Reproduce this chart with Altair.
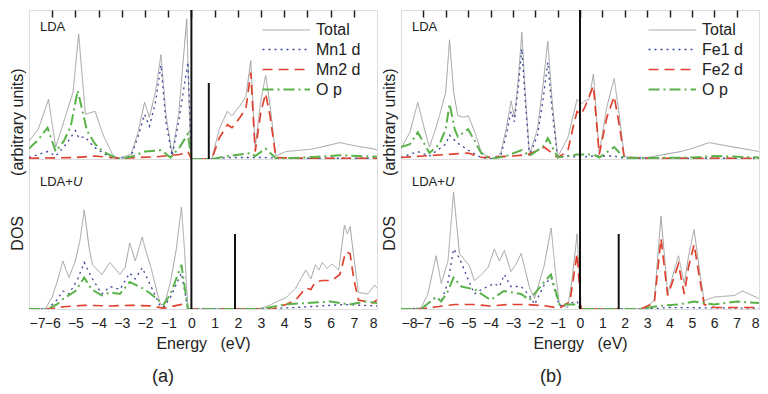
import altair as alt
import pandas as pd

FONT = "Liberation Sans"

# ---------------- series names / styles ----------------
a_names = ["Total", "Mn1 d", "Mn2 d", "O p"]
b_names = ["Total", "Fe1 d", "Fe2 d", "O p"]
line_colors = ["#a0a0a0", "#3b4796", "#e0402c", "#5ab24a"]
line_dashes = [[1, 0], [2, 4], [10, 6], [11, 4, 2, 4]]
line_widths = [1.0, 2.0, 2.8, 2.8]

# ---------------- panel (a), LDA ----------------
a_lda_total_E = [-7.0, -6.6, -6.16, -5.85, -5.5, -5.1, -4.86, -4.57, -4.15, -3.8, -3.4, -3.17, -2.6, -2.3, -2.02, -1.81, -1.55, -1.31, -1.1, -0.83, -0.55, -0.2, -0.05, 0.0, 0.88, 1.2, 1.55, 1.75, 2.1, 2.35, 2.56, 2.75, 3.0, 3.2, 3.4, 3.64, 4.07, 5.2, 6.4, 7.0, 7.9, 8.0]
a_lda_total_v = [1.2, 2.0, 4.0, 0.8, 2.5, 4.5, 8.4, 3.0, 3.2, 1.6, 0.3, 0.05, 0.3, 1.8, 3.8, 2.8, 4.5, 7.0, 3.0, 0.3, 3.0, 9.4, 1.0, 0.0, 0.0, 2.0, 3.2, 2.9, 3.6, 4.2, 6.6, 0.8, 4.0, 5.6, 3.5, 0.2, 0.5, 0.66, 1.1, 0.9, 0.66, 0.6]
a_lda_m1_E = [-7.0, -6.2, -5.85, -5.4, -5.0, -4.85, -4.6, -4.2, -3.5, -3.17, -2.6, -2.3, -2.02, -1.81, -1.55, -1.31, -1.1, -0.83, -0.55, -0.15, 0.0, 0.9, 1.6, 3.0, 4.0, 8.0]
a_lda_m1_v = [0.1, 0.5, 0.2, 1.0, 1.9, 1.4, 1.5, 0.8, 0.1, 0.0, 0.2, 1.5, 3.0, 2.2, 3.8, 6.3, 2.5, 0.2, 2.5, 6.5, 0.0, 0.0, 0.1, 0.1, 0.05, 0.05]
a_lda_m2_E = [-7.0, -5.0, -4.2, -3.0, -1.5, -0.5, -0.15, 0.0, 0.88, 1.2, 1.55, 1.75, 2.1, 2.35, 2.56, 2.75, 3.0, 3.2, 3.4, 3.64, 4.5, 8.0]
a_lda_m2_v = [0.05, 0.1, 0.2, 0.05, 0.15, 0.3, 0.5, 0.0, 0.0, 1.4, 2.3, 2.1, 2.8, 3.4, 5.8, 0.5, 3.2, 4.4, 2.8, 0.1, 0.05, 0.05]
a_lda_op_E = [-7.0, -6.6, -6.2, -5.85, -5.5, -5.2, -4.9, -4.5, -4.15, -3.8, -3.17, -2.6, -2.0, -1.3, -0.9, -0.5, -0.15, 0.0, 0.9, 1.6, 2.56, 2.75, 3.2, 3.64, 5.0, 6.4, 8.0]
a_lda_op_v = [0.7, 1.3, 2.1, 0.5, 1.2, 2.2, 4.6, 1.9, 1.0, 0.5, 0.0, 0.15, 0.5, 0.6, 0.1, 0.8, 1.7, 0.0, 0.0, 0.2, 0.4, 0.2, 0.7, 0.05, 0.1, 0.25, 0.15]

# ---------------- panel (a), LDA+U ----------------
a_ldau_total_E = [-7.0, -6.3, -6.0, -5.75, -5.54, -5.28, -5.0, -4.8, -4.62, -4.4, -4.26, -3.86, -3.51, -3.08, -2.85, -2.66, -2.42, -2.12, -1.95, -1.74, -1.38, -1.2, -0.9, -0.65, -0.43, -0.3, -0.15, 0.0, 2.9, 3.3, 3.7, 4.07, 4.5, 4.93, 5.15, 5.34, 5.5, 5.64, 5.85, 6.06, 6.35, 6.6, 6.72, 6.84, 7.0, 7.2, 7.6, 7.9, 8.0]
a_ldau_total_v = [0.0, 0.0, 0.8, 2.0, 3.2, 2.1, 3.2, 4.6, 6.6, 4.0, 2.95, 2.3, 3.1, 2.3, 2.8, 4.4, 3.2, 4.8, 3.8, 2.75, 0.5, 0.1, 1.8, 4.0, 6.8, 4.0, 0.0, 0.0, 0.0, 0.2, 0.5, 0.75, 1.4, 2.6, 2.0, 2.95, 2.6, 3.1, 2.7, 3.0, 2.6, 5.6, 5.0, 5.5, 3.5, 1.1, 1.0, 1.6, 1.4]
a_ldau_m1_E = [-7.0, -6.2, -5.8, -5.54, -5.28, -4.9, -4.62, -4.4, -4.26, -3.86, -3.51, -3.08, -2.66, -2.42, -2.12, -1.74, -1.38, -1.2, -0.9, -0.43, -0.15, 0.0, 3.0, 4.5, 6.6, 8.0]
a_ldau_m1_v = [0.0, 0.0, 0.6, 1.2, 1.0, 2.0, 3.1, 2.4, 2.0, 1.0, 1.5, 1.3, 2.4, 2.0, 2.75, 1.5, 0.3, 0.1, 0.8, 2.4, 0.0, 0.0, 0.0, 0.1, 0.3, 0.2]
a_ldau_m2_E = [-7.0, -6.2, -5.5, -4.6, -3.5, -2.6, -1.7, -1.2, -0.43, -0.15, 0.0, 3.5, 4.07, 4.5, 4.93, 5.15, 5.34, 5.64, 6.06, 6.4, 6.65, 6.84, 7.0, 7.2, 7.8, 8.0]
a_ldau_m2_v = [0.0, 0.0, 0.15, 0.25, 0.2, 0.25, 0.2, 0.05, 0.3, 0.0, 0.0, 0.0, 0.3, 0.6, 1.4, 1.3, 1.8, 1.9, 1.9, 2.3, 3.8, 3.7, 2.0, 0.6, 0.4, 0.6]
a_ldau_op_E = [-7.0, -6.2, -5.8, -5.5, -5.0, -4.62, -4.3, -3.86, -3.51, -3.08, -2.66, -2.12, -1.74, -1.2, -0.9, -0.43, -0.15, 0.0, 3.0, 4.0, 5.0, 6.0, 6.8, 7.5, 8.0]
a_ldau_op_v = [0.0, 0.0, 0.3, 0.7, 1.2, 2.1, 1.3, 0.9, 1.1, 1.0, 1.8, 1.4, 1.0, 0.3, 1.0, 2.95, 0.0, 0.0, 0.0, 0.3, 0.4, 0.5, 0.3, 0.5, 0.4]

# ---------------- panel (b), LDA ----------------
b_lda_total_E = [-8.0, -7.6, -7.25, -6.95, -6.73, -6.5, -6.28, -6.0, -5.83, -5.65, -5.46, -5.2, -4.99, -4.7, -4.42, -4.0, -3.7, -3.53, -3.3, -3.08, -2.93, -2.75, -2.6, -2.45, -2.26, -1.9, -1.65, -1.44, -1.25, -1.0, -0.55, -0.13, 0.05, 0.22, 0.4, 0.6, 0.86, 1.2, 1.53, 1.75, 1.98, 3.0, 4.5, 5.0, 5.77, 6.5, 7.63, 8.0]
b_lda_total_v = [0.7, 1.8, 3.8, 2.0, 0.8, 1.8, 2.9, 4.5, 8.0, 4.5, 2.9, 2.8, 2.9, 1.8, 0.5, 0.0, 0.1, 0.5, 2.0, 3.9, 2.8, 5.5, 8.5, 4.5, 0.3, 2.0, 5.0, 7.9, 4.0, 0.15, 1.4, 4.0, 3.7, 3.9, 4.0, 5.7, 0.4, 3.5, 5.4, 3.0, 0.15, 0.1, 0.5, 0.7, 1.1, 0.9, 0.6, 0.5]
b_lda_f1_E = [-8.0, -7.25, -6.73, -6.0, -5.83, -5.5, -5.0, -4.42, -4.0, -3.53, -3.3, -3.08, -2.93, -2.75, -2.6, -2.45, -2.26, -1.9, -1.65, -1.44, -1.25, -1.0, -0.5, 0.0, 0.6, 1.5, 2.0, 8.0]
b_lda_f1_v = [0.1, 0.5, 0.2, 1.0, 1.6, 1.1, 0.6, 0.1, 0.0, 0.3, 1.6, 3.2, 2.5, 5.0, 7.4, 4.0, 0.2, 1.6, 4.0, 6.5, 3.3, 0.1, 0.2, 0.1, 0.2, 0.2, 0.05, 0.05]
b_lda_f2_E = [-8.0, -7.0, -6.0, -5.0, -4.4, -3.0, -2.3, -1.6, -1.0, -0.55, -0.3, -0.13, 0.05, 0.22, 0.6, 0.86, 1.2, 1.53, 1.75, 1.98, 3.0, 8.0]
b_lda_f2_v = [0.1, 0.2, 0.3, 0.4, 0.1, 0.2, 0.3, 0.8, 0.1, 0.5, 2.2, 3.2, 3.0, 3.5, 4.9, 0.3, 2.8, 4.2, 2.3, 0.1, 0.05, 0.05]
b_lda_op_E = [-8.0, -7.6, -7.25, -6.95, -6.73, -6.28, -6.0, -5.83, -5.6, -5.46, -5.0, -4.7, -4.42, -4.0, -3.3, -2.6, -2.26, -1.6, -1.44, -1.0, -0.13, 0.6, 0.86, 1.53, 1.98, 5.0, 6.0, 8.0]
b_lda_op_v = [0.8, 1.0, 1.8, 1.0, 0.4, 1.0, 2.0, 3.7, 2.0, 1.5, 2.0, 1.2, 0.4, 0.0, 0.2, 0.6, 0.2, 0.9, 1.4, 0.1, 0.3, 0.3, 0.1, 0.8, 0.05, 0.1, 0.2, 0.1]

# ---------------- panel (b), LDA+U ----------------
b_ldau_total_E = [-8.0, -7.1, -6.8, -6.43, -6.2, -5.9, -5.65, -5.39, -4.95, -4.72, -4.4, -4.1, -3.83, -3.6, -3.38, -3.09, -2.85, -2.63, -2.26, -2.03, -1.6, -1.29, -1.1, -0.92, -0.55, -0.35, -0.13, 0.05, 2.72, 3.0, 3.32, 3.62, 3.92, 4.2, 4.4, 4.66, 4.85, 5.1, 5.35, 5.55, 6.0, 6.9, 7.26, 8.0]
b_ldau_total_v = [0.0, 0.07, 1.0, 3.55, 1.7, 3.2, 7.8, 3.7, 2.9, 1.9, 2.3, 2.8, 4.0, 3.2, 3.9, 2.5, 3.0, 3.7, 1.45, 0.7, 2.9, 5.4, 2.5, 0.3, 0.1, 2.0, 5.0, 0.0, 0.0, 0.2, 0.55, 6.2, 1.0, 2.5, 3.55, 1.7, 3.5, 5.3, 2.5, 0.55, 0.8, 0.9, 1.2, 0.7]
b_ldau_f1_E = [-8.0, -7.1, -6.43, -6.2, -5.9, -5.65, -5.39, -4.95, -4.72, -4.4, -3.83, -3.6, -3.38, -3.09, -2.63, -2.26, -2.03, -1.6, -1.29, -0.92, -0.13, 0.05, 3.0, 4.0, 8.0]
b_ldau_f1_v = [0.0, 0.0, 0.8, 0.5, 1.8, 4.0, 3.4, 1.8, 1.0, 1.3, 1.7, 1.5, 2.3, 1.5, 1.5, 0.9, 0.3, 1.6, 2.1, 0.2, 0.5, 0.0, 0.0, 0.1, 0.05]
b_ldau_f2_E = [-8.0, -7.1, -6.4, -5.6, -4.8, -4.0, -3.2, -2.4, -1.5, -0.92, -0.45, -0.25, -0.13, 0.05, 2.72, 3.32, 3.62, 3.92, 4.2, 4.4, 4.66, 4.85, 5.1, 5.35, 5.55, 6.0, 8.0]
b_ldau_f2_v = [0.0, 0.0, 0.15, 0.3, 0.3, 0.2, 0.3, 0.3, 0.2, 0.05, 0.5, 2.5, 3.7, 0.0, 0.0, 0.4, 4.7, 0.9, 2.1, 3.0, 1.0, 2.8, 4.3, 2.0, 0.3, 0.1, 0.1]
b_ldau_op_E = [-8.0, -7.1, -6.43, -6.2, -5.9, -5.65, -5.3, -4.7, -4.0, -3.4, -2.63, -2.26, -1.6, -1.3, -0.92, -0.13, 0.05, 2.72, 3.5, 4.4, 5.1, 6.0, 7.0, 8.0]
b_ldau_op_v = [0.0, 0.0, 0.8, 0.5, 1.2, 2.1, 1.5, 1.3, 0.6, 1.2, 1.0, 0.6, 1.8, 2.3, 0.3, 0.3, 0.0, 0.0, 0.2, 0.3, 0.5, 0.3, 0.5, 0.4]

# band-gap markers (energy, height)
a_lda_gap = (0.75, 5.1)
a_ldau_gap = (1.88, 5.0)
b_ldau_gap = (1.73, 5.0)

NB = "\u00a0"
# legend symbol: a horizontal stroke, longer than the nominal symbol box
LEG_PATH = "M-4,0L1,0"


def long_frame(names, series):
    rows = []
    for k, (name, (E, V)) in enumerate(zip(names, series)):
        for e, v in zip(E, V):
            rows.append({"E": e, "DOS": v, "series": name, "k": k})
    return pd.DataFrame(rows)


def subplot(df, names, xdom, is_top, gap, label, w, h, leg_x):
    xs = alt.Scale(domain=xdom, nice=False, zero=False)
    ys = alt.Scale(domain=[0, 10], nice=False, zero=True)
    if is_top:
        xaxis = alt.Axis(orient="top", values=list(range(xdom[0] + 1, xdom[1])), tickCount=40,
                         labels=False, domain=False, grid=False, ticks=True, tickSize=7,
                         tickWidth=1.5, tickColor="#222222", offset=-7, title=None,
                         labelOverlap=False)
        yaxis = alt.Axis(labels=False, ticks=False, domain=False, grid=False, title=None)
        legend = alt.Legend(title=None, orient="none", legendX=leg_x, legendY=10, padding=0,
                            symbolType=LEG_PATH, symbolSize=361, labelFontSize=16,
                            labelFont=FONT, labelColor="#222222", labelOffset=5,
                            rowPadding=1, labelLimit=200)
    else:
        xaxis = alt.Axis(orient="bottom", values=list(range(xdom[0], xdom[1] + 1)), tickCount=40,
                         format="d", domain=False, grid=False, ticks=False, tickSize=0,
                         labelPadding=7, labelFontSize=14, labelFont=FONT, labelColor="#222222",
                         labelOverlap=False,
                         title="Energy" + NB * 3 + "(eV)", titleFontSize=16,
                         titleFont=FONT, titleFontWeight="normal", titleColor="#222222",
                         titlePadding=5)
        yaxis = alt.Axis(labels=False, ticks=False, domain=False, grid=False,
                         title="DOS" + NB * 9 + "(arbitrary units)", titleY=0,
                         titleAlign="center", titleFontSize=16, titleFont=FONT,
                         titleFontWeight="normal", titleColor="#222222", titlePadding=4)
        legend = None

    lines = alt.Chart(df).mark_line(clip=True, strokeCap="butt").encode(
        x=alt.X("E:Q", scale=xs, axis=xaxis),
        y=alt.Y("DOS:Q", scale=ys, axis=yaxis),
        color=alt.Color("series:N", scale=alt.Scale(domain=names, range=line_colors), legend=legend),
        strokeDash=alt.StrokeDash("series:N", scale=alt.Scale(domain=names, range=line_dashes), legend=legend),
        strokeWidth=alt.StrokeWidth("series:N", scale=alt.Scale(domain=names, range=line_widths), legend=legend),
        order=alt.Order("E:Q"),
    )
    zero = alt.Chart(pd.DataFrame({"E": [0.0]})).mark_rule(color="#111111", strokeWidth=2).encode(
        x=alt.X("E:Q", scale=xs))
    layers = [lines, zero]
    if gap is not None:
        gdf = pd.DataFrame({"E": [gap[0]], "lo": [0.0], "hi": [gap[1]]})
        layers.append(alt.Chart(gdf).mark_rule(color="#111111", strokeWidth=2).encode(
            x=alt.X("E:Q", scale=xs), y=alt.Y("lo:Q", scale=ys), y2="hi:Q"))
    if label == "LDA":
        layers.append(alt.Chart(pd.DataFrame({"t": ["LDA"]})).mark_text(
            align="left", baseline="middle", fontSize=13, font=FONT, color="#222222").encode(
            x=alt.value(11), y=alt.value(17), text="t:N"))
    else:
        layers.append(alt.Chart(pd.DataFrame({"t": ["LDA+"]})).mark_text(
            align="left", baseline="middle", fontSize=13, font=FONT, color="#222222").encode(
            x=alt.value(11), y=alt.value(23), text="t:N"))
        layers.append(alt.Chart(pd.DataFrame({"t": ["U"]})).mark_text(
            align="left", baseline="middle", fontSize=13, font=FONT, fontStyle="italic",
            color="#222222").encode(x=alt.value(44), y=alt.value(23), text="t:N"))
    return alt.layer(*layers).properties(width=w, height=h).resolve_scale(
        color="shared", strokeDash="shared", strokeWidth="shared")


def panel(names, top_series, bot_series, xdom, top_gap, bot_gap, w, tag, dx, leg_x):
    top = subplot(long_frame(names, top_series), names, xdom, True, top_gap, "LDA", w, 149, leg_x)
    bot = subplot(long_frame(names, bot_series), names, xdom, False, bot_gap, "LDA+U", w, 150, leg_x)
    return alt.vconcat(top, bot, spacing=0, bounds="flush",
                       title=alt.TitleParams(tag, orient="bottom", anchor="middle", fontSize=18,
                                             font=FONT, fontWeight="normal", color="#222222",
                                             offset=16, dx=dx)).resolve_scale(
        x="independent", color="independent", strokeDash="independent", strokeWidth="independent")


pa = panel(a_names,
           [(a_lda_total_E, a_lda_total_v), (a_lda_m1_E, a_lda_m1_v), (a_lda_m2_E, a_lda_m2_v), (a_lda_op_E, a_lda_op_v)],
           [(a_ldau_total_E, a_ldau_total_v), (a_ldau_m1_E, a_ldau_m1_v), (a_ldau_m2_E, a_ldau_m2_v), (a_ldau_op_E, a_ldau_op_v)],
           [-7, 8], a_lda_gap, a_ldau_gap, 348, "(a)", -30, 261)
pb = panel(b_names,
           [(b_lda_total_E, b_lda_total_v), (b_lda_f1_E, b_lda_f1_v), (b_lda_f2_E, b_lda_f2_v), (b_lda_op_E, b_lda_op_v)],
           [(b_ldau_total_E, b_ldau_total_v), (b_ldau_f1_E, b_ldau_f1_v), (b_ldau_f2_E, b_ldau_f2_v), (b_ldau_op_E, b_ldau_op_v)],
           [-8, 8], None, b_ldau_gap, 358, "(b)", -19, 275)

chart = alt.hconcat(pa, pb, spacing=2).resolve_scale(
    x="independent", y="independent", color="independent", strokeDash="independent",
    strokeWidth="independent").properties(
    padding={"left": 0, "top": 0, "right": 0, "bottom": 0}
).configure_view(stroke="#222222", strokeWidth=1.5).configure(font=FONT)

chart.save("out.html", embed_options={"renderer": "svg", "actions": False})
